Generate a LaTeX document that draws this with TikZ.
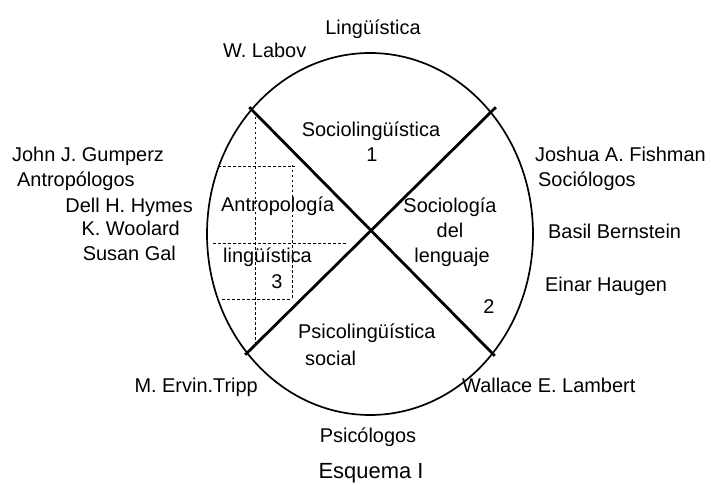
\documentclass[tikz,border=0pt]{standalone}
\usepackage{fontspec}
\setmainfont{Liberation Sans}
\usetikzlibrary{positioning}

\begin{document}
\begin{tikzpicture}[
  x=1bp, y=-1bp,
  every node/.style={font=\fontsize{20}{24}\selectfont, inner sep=0pt},
  rim/.style={line width=1.7bp},
  crossline/.style={line width=2.8bp, shorten <=-4bp, shorten >=-4bp},
  gridline/.style={line width=0.9bp, dash pattern=on 2.5bp off 2.5bp},
  author/.style={anchor=base west},
  authorr/.style={anchor=base east},
  field/.style={anchor=base}
]
\useasboundingbox (0,0) rectangle (711,485);

% circle and the two crossing lines
\draw[rim] (370,234) ellipse [x radius=163, y radius=181];
\coordinate (ul) at (252,110);
\coordinate (ur) at (493,110);
\coordinate (ll) at (248,352);
\coordinate (lr) at (492,353);
\draw[crossline] (ul) -- (lr);
\draw[crossline] (ur) -- (ll);

% dotted grid
\draw[gridline] (255,112) -- (255,343);
\draw[gridline] (292,165) -- (292,298);
\draw[gridline] (218,166) -- (295,166);
\draw[gridline] (213,243) -- (347,243);
\draw[gridline] (222,299) -- (292,299);

% sectors
\node[field] (socioling) at (371,137) {Sociolingüística};
\node[field] (one) at (372,162) {1};
\node[anchor=base west] (antrop) at (221,212) {Antropología};
\node[anchor=base west] (lingu) at (223,263) {lingüística};
\node[field] (three) at (277,288) {3};
\node[field] (sociol) at (450,213) {Sociología};
\node[field] (del) at (450,238) {del};
\node[field] (lenguaje) at (452,263) {lenguaje};
\node[field] (two) at (489,313) {2};
\node[anchor=base west] (psicoling) at (298,338) {Psicolingüística};
\node[anchor=base west] (social) at (305,365) {social};

% names round the circle
\node[field] (linguistica) at (373,35) {Lingüística};
\node[author] (labov) at (223,58) {W. Labov};
\node[author] (gumperz) at (12,162) {John J. Gumperz};
\node[author] (antropologos) at (17,187) {Antropólogos};
\node[authorr] (hymes) at (193,213) {Dell H. Hymes};
\node[authorr] (woolard) at (180,236) {K. Woolard};
\node[authorr] (gal) at (176,261) {Susan Gal};
\node[authorr] (tripp) at (258,392) {M. Ervin.Tripp};
\node[author] (fishman) at (535,162) {Joshua A. Fishman};
\node[author] (sociologos) at (538,187) {Sociólogos};
\node[author] (bernstein) at (548,239) {Basil Bernstein};
\node[author] (haugen) at (545,291) {Einar Haugen};
\node[author] (lambert) at (462,392) {Wallace E. Lambert};
\node[field] (psicologos) at (368,442) {Psicólogos};
\node[field, font=\fontsize{22}{26}\selectfont] (esquema) at (371,478) {Esquema I};
\end{tikzpicture}
\end{document}
